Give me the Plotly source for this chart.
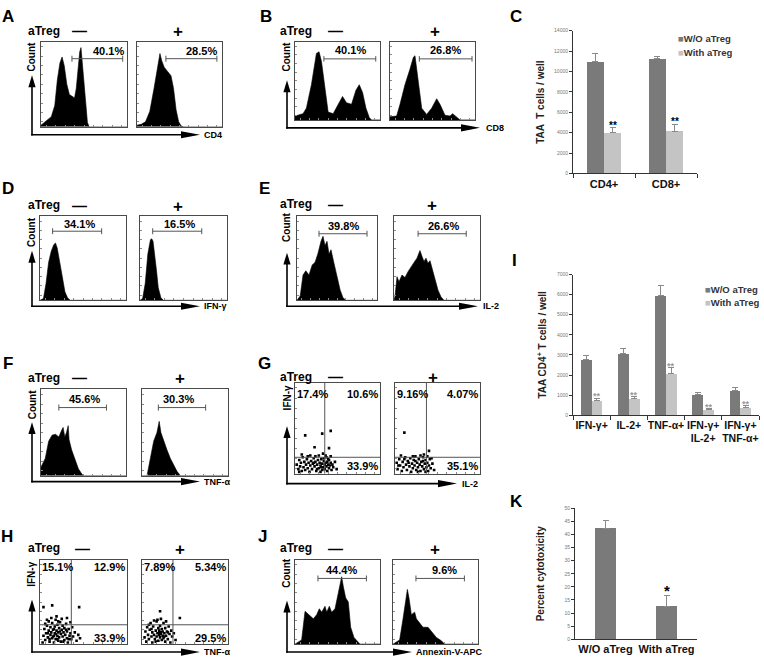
import plotly.graph_objects as go

W, H = 764, 662
FONT = "Arial, 'Liberation Sans', sans-serif"

# ======================= DATA =======================
# Flow histograms: x = fraction of the fluorescence axis, y = fraction of max count
A_minus_x = [0, 0.04, 0.08, 0.12, 0.16, 0.19, 0.22, 0.245, 0.27, 0.30, 0.33, 0.36, 0.39, 0.41, 0.43, 0.45, 0.465, 0.48, 0.50, 0.52, 0.54, 0.56, 1.0]
A_minus_y = [0.02, 0.05, 0.08, 0.12, 0.25, 0.55, 0.75, 0.82, 0.72, 0.50, 0.38, 0.36, 0.34, 0.45, 0.70, 0.88, 0.93, 0.75, 0.45, 0.20, 0.05, 0.0, 0.0]
A_plus_x = [0, 0.05, 0.10, 0.15, 0.20, 0.24, 0.27, 0.29, 0.32, 0.36, 0.40, 0.43, 0.46, 0.49, 0.52, 0.55, 1.0]
A_plus_y = [0.02, 0.03, 0.06, 0.18, 0.45, 0.70, 0.86, 0.78, 0.70, 0.65, 0.60, 0.45, 0.20, 0.06, 0.01, 0.0, 0.0]
A_pct = ["40.1%", "28.5%"]

B_minus_x = [0, 0.05, 0.094, 0.134, 0.193, 0.252, 0.283, 0.311, 0.35, 0.39, 0.449, 0.508, 0.559, 0.606, 0.665, 0.717, 0.756, 0.795, 0.835, 0.874, 0.90, 1.0]
B_minus_y = [0.05, 0.07, 0.08, 0.15, 0.45, 0.85, 0.87, 0.75, 0.40, 0.10, 0.08, 0.20, 0.30, 0.22, 0.20, 0.38, 0.45, 0.35, 0.15, 0.03, 0.0, 0.0]
B_plus_x = [0, 0.078, 0.118, 0.176, 0.235, 0.275, 0.294, 0.333, 0.373, 0.431, 0.49, 0.549, 0.588, 0.647, 0.706, 0.737, 0.784, 0.824, 1.0]
B_plus_y = [0.04, 0.05, 0.20, 0.45, 0.65, 0.80, 0.82, 0.50, 0.15, 0.07, 0.15, 0.27, 0.20, 0.06, 0.05, 0.08, 0.03, 0.0, 0.0]
B_pct = ["40.1%", "26.8%"]

D_minus_x = [0, 0.04, 0.07, 0.10, 0.13, 0.16, 0.18, 0.20, 0.23, 0.26, 0.29, 0.32, 0.35, 1.0]
D_minus_y = [0, 0.02, 0.20, 0.45, 0.58, 0.66, 0.68, 0.62, 0.45, 0.25, 0.10, 0.03, 0, 0]
D_plus_x = [0, 0.03, 0.06, 0.09, 0.12, 0.135, 0.15, 0.17, 0.19, 0.21, 0.24, 0.27, 1.0]
D_plus_y = [0, 0.02, 0.20, 0.55, 0.72, 0.73, 0.70, 0.55, 0.35, 0.15, 0.03, 0, 0]
D_pct = ["34.1%", "16.5%"]

E_minus_x = [0, 0.04, 0.075, 0.11, 0.15, 0.19, 0.225, 0.26, 0.30, 0.325, 0.35, 0.375, 0.40, 0.425, 0.46, 0.50, 0.54, 0.575, 0.61, 1.0]
E_minus_y = [0, 0.05, 0.30, 0.35, 0.30, 0.42, 0.45, 0.55, 0.70, 0.76, 0.65, 0.70, 0.55, 0.60, 0.45, 0.30, 0.12, 0.03, 0, 0]
E_plus_x = [0, 0.012, 0.035, 0.058, 0.093, 0.128, 0.163, 0.198, 0.233, 0.267, 0.302, 0.326, 0.349, 0.372, 0.395, 0.419, 0.442, 0.477, 0.512, 0.547, 0.581, 1.0]
E_plus_y = [0, 0.05, 0.28, 0.22, 0.30, 0.27, 0.34, 0.40, 0.45, 0.50, 0.59, 0.52, 0.46, 0.50, 0.44, 0.47, 0.38, 0.25, 0.12, 0.04, 0, 0]
E_pct = ["39.8%", "26.6%"]

F_minus_x = [0, 0.05, 0.09, 0.13, 0.17, 0.21, 0.24, 0.26, 0.28, 0.30, 0.32, 0.33, 0.36, 0.40, 0.44, 0.48, 0.50, 1.0]
F_minus_y = [0.10, 0.20, 0.40, 0.47, 0.48, 0.45, 0.52, 0.56, 0.45, 0.50, 0.58, 0.42, 0.30, 0.18, 0.08, 0.02, 0, 0]
F_plus_x = [0, 0.058, 0.097, 0.136, 0.174, 0.20, 0.22, 0.252, 0.29, 0.33, 0.368, 0.407, 0.446, 1.0]
F_plus_y = [0, 0, 0.20, 0.40, 0.50, 0.63, 0.50, 0.40, 0.30, 0.20, 0.12, 0.05, 0, 0]
F_pct = ["45.6%", "30.3%"]

J_minus_x = [0, 0.078, 0.118, 0.157, 0.184, 0.216, 0.255, 0.286, 0.314, 0.353, 0.373, 0.404, 0.431, 0.471, 0.498, 0.529, 0.549, 0.569, 0.596, 0.627, 0.655, 0.694, 0.733, 0.765, 1.0]
J_minus_y = [0, 0.05, 0.39, 0.36, 0.33, 0.30, 0.35, 0.42, 0.38, 0.45, 0.38, 0.45, 0.38, 0.42, 0.55, 0.72, 0.80, 0.68, 0.55, 0.50, 0.20, 0.08, 0.03, 0, 0]
J_plus_x = [0, 0.078, 0.118, 0.149, 0.169, 0.188, 0.216, 0.255, 0.275, 0.314, 0.353, 0.412, 0.451, 0.51, 0.569, 0.608, 1.0]
J_plus_y = [0, 0.05, 0.30, 0.50, 0.65, 0.55, 0.35, 0.38, 0.30, 0.25, 0.20, 0.20, 0.15, 0.08, 0.04, 0, 0]
J_pct = ["44.4%", "9.6%"]

# Gates: [start, end, level] in axis fractions; label: [x, y]
A_gates = [[0.36, 0.95, 0.80], [0.34, 0.94, 0.80]]
A_lab = [[0.78, 0.895], [0.76, 0.895]]
B_gates = [[0.34, 0.95, 0.78], [0.345, 0.965, 0.78]]
B_lab = [[0.65, 0.89], [0.655, 0.89]]
D_gates = [[0.147, 0.717, 0.82], [0.146, 0.71, 0.82]]
D_lab = [[0.465, 0.905], [0.45, 0.905]]
E_gates = [[0.275, 0.875, 0.79], [0.28, 0.84, 0.79]]
E_lab = [[0.575, 0.88], [0.57, 0.88]]
F_gates = [[0.21, 0.77, 0.79], [0.19, 0.74, 0.79]]
F_lab = [[0.51, 0.885], [0.43, 0.885]]
J_gates = [[0.27, 0.84, 0.78], [0.27, 0.84, 0.78]]
J_lab = [[0.55, 0.88], [0.61, 0.88]]

# Dot plots (x, y as axis fractions)
G_minus_pts = [(0.02,0.10),(0.04,0.05),(0.05,0.15),(0.06,0.08),(0.07,0.12),(0.08,0.03),(0.09,0.18),(0.10,0.07),(0.11,0.13),(0.12,0.04),
               (0.13,0.10),(0.14,0.16),(0.15,0.06),(0.16,0.12),(0.17,0.02),(0.18,0.09),(0.19,0.14),(0.20,0.05),(0.21,0.11),(0.22,0.17),
               (0.23,0.08),(0.24,0.13),(0.25,0.03),(0.26,0.10),(0.27,0.15),(0.28,0.06),(0.29,0.12),(0.30,0.09),(0.31,0.16),(0.32,0.04),
               (0.32,0.11),(0.33,0.07),(0.34,0.14),(0.35,0.10),(0.35,0.05),(0.36,0.12),(0.37,0.18),(0.37,0.08),(0.38,0.03),(0.38,0.13),
               (0.39,0.10),(0.40,0.06),(0.40,0.15),(0.41,0.09),(0.42,0.12),(0.43,0.04),(0.44,0.10),(0.45,0.07),(0.47,0.13),(0.49,0.05),
               (0.28,0.20),(0.33,0.22),(0.36,0.20),(0.30,0.02),(0.24,0.19),(0.18,0.20),(0.08,0.21),(0.42,0.19),(0.34,0.17),(0.31,0.07),
               (0.26,0.05),(0.39,0.16),(0.22,0.12),(0.15,0.19),(0.05,0.02),(0.12,0.42),(0.32,0.44),(0.42,0.47),(0.23,0.29),(0.40,0.28)]
G_plus_pts = [(0.02,0.12),(0.03,0.05),(0.05,0.16),(0.06,0.09),(0.08,0.03),(0.09,0.13),(0.10,0.07),(0.12,0.18),(0.13,0.10),(0.14,0.04),
              (0.15,0.14),(0.17,0.08),(0.18,0.17),(0.19,0.02),(0.20,0.11),(0.21,0.06),(0.22,0.15),(0.23,0.09),(0.24,0.19),(0.25,0.04),
              (0.26,0.12),(0.27,0.07),(0.28,0.16),(0.29,0.10),(0.30,0.03),(0.31,0.13),(0.32,0.08),(0.33,0.18),(0.34,0.05),(0.35,0.11),
              (0.36,0.15),(0.37,0.07),(0.38,0.12),(0.39,0.03),(0.40,0.09),(0.41,0.16),(0.42,0.06),(0.44,0.11),(0.46,0.04),(0.30,0.20),
              (0.34,0.21),(0.27,0.02),(0.16,0.12),(0.11,0.16),(0.07,0.20),(0.38,0.19),(0.33,0.14),(0.24,0.14),(0.43,0.17),(0.21,0.19),
              (0.04,0.09),(0.36,0.02),(0.11,0.45),(0.40,0.25)]
G_pct = ["17.4%", "10.6%", "33.9%", "9.16%", "4.07%", "35.1%"]
G_quads = [[0.35, 0.18], [0.37, 0.18]]

H_minus_pts = [(0.04,0.10),(0.05,0.18),(0.06,0.05),(0.07,0.13),(0.08,0.22),(0.09,0.08),(0.10,0.16),(0.10,0.27),(0.11,0.03),(0.12,0.11),
               (0.12,0.20),(0.13,0.14),(0.14,0.07),(0.14,0.25),(0.15,0.17),(0.16,0.10),(0.16,0.02),(0.17,0.21),(0.17,0.13),(0.18,0.06),
               (0.18,0.29),(0.19,0.16),(0.20,0.10),(0.20,0.23),(0.21,0.04),(0.21,0.14),(0.22,0.19),(0.22,0.08),(0.23,0.26),(0.24,0.12),
               (0.24,0.03),(0.25,0.17),(0.26,0.09),(0.26,0.22),(0.27,0.14),(0.28,0.05),(0.28,0.19),(0.29,0.11),(0.30,0.24),(0.31,0.07),
               (0.31,0.15),(0.32,0.02),(0.33,0.18),(0.34,0.10),(0.35,0.13),(0.36,0.06),(0.37,0.20),(0.38,0.09),(0.40,0.14),(0.42,0.04),
               (0.44,0.11),(0.46,0.07),(0.03,0.02),(0.13,0.31),(0.19,0.33),(0.25,0.30),(0.08,0.29),(0.15,0.09),(0.18,0.12),(0.21,0.27),
               (0.11,0.06),(0.23,0.15),(0.27,0.03),(0.30,0.17),(0.09,0.13),(0.16,0.18),(0.20,0.06),(0.35,0.26),(0.06,0.24),(0.33,0.06),
               (0.14,0.46),(0.45,0.44),(0.04,0.44),(0.31,0.31)]
H_plus_pts = [(0.03,0.08),(0.04,0.15),(0.05,0.03),(0.06,0.20),(0.07,0.11),(0.08,0.06),(0.09,0.17),(0.10,0.25),(0.11,0.09),(0.12,0.14),
              (0.12,0.02),(0.13,0.21),(0.14,0.11),(0.15,0.06),(0.16,0.16),(0.17,0.27),(0.17,0.09),(0.18,0.13),(0.19,0.19),(0.19,0.04),
              (0.20,0.11),(0.20,0.16),(0.21,0.08),(0.21,0.22),(0.22,0.14),(0.22,0.12),(0.23,0.18),(0.23,0.05),(0.24,0.10),(0.24,0.15),
              (0.25,0.25),(0.25,0.07),(0.26,0.13),(0.27,0.19),(0.27,0.03),(0.28,0.10),(0.29,0.15),(0.30,0.06),(0.31,0.21),(0.32,0.12),
              (0.33,0.02),(0.34,0.16),(0.35,0.09),(0.37,0.13),(0.39,0.05),(0.18,0.29),(0.22,0.30),(0.14,0.28),(0.28,0.27),(0.11,0.18),
              (0.26,0.09),(0.20,0.13),(0.16,0.03),(0.30,0.14),(0.08,0.23),(0.21,0.39),(0.44,0.31)]
H_pct = ["15.1%", "12.9%", "33.9%", "7.89%", "5.34%", "29.5%"]
H_quads = [[0.36, 0.23], [0.36, 0.23]]

# Bar charts
C_categories = ["CD4+", "CD8+"]
C_wo = [11000, 11300]
C_wo_err = [800, 150]
C_with = [4000, 4150]
C_with_err = [500, 680]
C_stars = ["**", "**"]

I_categories = ["IFN-γ+", "IL-2+", "TNF-α+", "IFN-γ+<br>IL-2+", "IFN-γ+<br>TNF-α+"]
I_wo = [2760, 3060, 5960, 1050, 1230]
I_wo_err = [230, 240, 480, 100, 130]
I_with = [740, 820, 2100, 280, 380]
I_with_err = [100, 100, 250, 50, 80]
I_stars = ["**", "**", "**", "**", "**"]

K_categories = ["W/O aTreg", "With aTreg"]
K_values = [42.2, 12.5]
K_err = [3.1, 4.2]
K_stars = ["", "*"]

series_names = ["W/O aTreg", "With aTreg"]

# ======================= BUILD =======================
DARK, LIGHT = "#7a7a7a", "#c4c4c4"
fig = go.Figure()
layout_axes, shapes, annots = {}, [], []
n_axes = 0


def PX(x):
    return x / W


def PY(y):
    return 1 - y / H


def new_axes(box, xr, yr, xs, ys):
    global n_axes
    n_axes += 1
    sfx = "" if n_axes == 1 else str(n_axes)
    x0, y0, x1, y1 = box
    layout_axes["xaxis" + sfx] = dict(domain=[PX(x0), PX(x1)], range=xr, anchor="y" + sfx, **xs)
    layout_axes["yaxis" + sfx] = dict(domain=[PY(y1), PY(y0)], range=yr, anchor="x" + sfx, **ys)
    return "x" + sfx, "y" + sfx


def txt(x, y, text, size, xanchor="center", yanchor="middle", angle=0, color="black",
        xref="paper", yref="paper", bold=True, yshift=0):
    if not text:
        return
    if xref == "paper":
        x = PX(x)
    if yref == "paper":
        y = PY(y)
    annots.append(dict(x=x, y=y, xref=xref, yref=yref, text=("<b>%s</b>" % text) if bold else text,
                       showarrow=False, xanchor=xanchor, yanchor=yanchor, textangle=angle, yshift=yshift,
                       font=dict(family=FONT, size=size, color=color)))


FLOW = dict(showline=True, linecolor="#4a4a4a", linewidth=1, mirror=True, ticks="inside", ticklen=2,
            tickwidth=1, tickcolor="#8a8a8a", tick0=0.06, dtick=0.11, showticklabels=False,
            showgrid=False, zeroline=False, fixedrange=True)


def header(letter_xy, letter, y, atreg_x, minus_x, plus_x):
    txt(letter_xy[0], letter_xy[1], letter, 17)
    txt(atreg_x, y, "aTreg", 12)
    txt(minus_x, y, "—", 15)
    txt(plus_x, y + 1, "+", 17)


def axis_arrows(cx, cy, vtip, htip, ylab, ylab_y, xlab, xlab_x, ysize=10, xsize=9, xlab_dy=0):
    line = dict(color="black", width=1.6)
    shapes.append(dict(type="line", xref="paper", yref="paper", x0=PX(cx), y0=PY(cy + 0.8), x1=PX(cx),
                       y1=PY(vtip + 10), line=line))
    shapes.append(dict(type="path", xref="paper", yref="paper", fillcolor="black", line=dict(width=0),
                       path="M%f,%f L%f,%f L%f,%f Z" % (PX(cx), PY(vtip), PX(cx - 3.6), PY(vtip + 12),
                                                        PX(cx + 3.6), PY(vtip + 12))))
    shapes.append(dict(type="line", xref="paper", yref="paper", x0=PX(cx - 0.8), y0=PY(cy), x1=PX(htip - 16),
                       y1=PY(cy), line=line))
    shapes.append(dict(type="path", xref="paper", yref="paper", fillcolor="black", line=dict(width=0),
                       path="M%f,%f L%f,%f L%f,%f Z" % (PX(htip), PY(cy), PX(htip - 19), PY(cy - 3.6),
                                                        PX(htip - 19), PY(cy + 3.6))))
    txt(cx, ylab_y, ylab, ysize, angle=-90)
    txt(xlab_x, cy + xlab_dy, xlab, xsize, xanchor="left")


def flow_hist(box, xs, ys, gate, pct, lab):
    xa, ya = new_axes(box, [0, 1], [0, 1], FLOW, FLOW)
    fig.add_trace(go.Scatter(x=xs, y=ys, mode="lines", fill="tozeroy", fillcolor="black",
                             line=dict(color="black", width=0.6), xaxis=xa, yaxis=ya,
                             hoverinfo="skip", showlegend=False))
    g0, g1, gy = gate
    for seg in [(g0, gy, g1, gy), (g0, gy - 0.035, g0, gy + 0.035), (g1, gy - 0.035, g1, gy + 0.035)]:
        shapes.append(dict(type="line", xref=xa, yref=ya, x0=seg[0], y0=seg[1], x1=seg[2], y1=seg[3],
                           line=dict(color="#555", width=1)))
    txt(lab[0], lab[1], pct, 11, xref=xa, yref=ya)


def flow_dots(box, pts, quad, pcts, top_y, bot_y):
    xa, ya = new_axes(box, [0, 1], [0, 1], FLOW, FLOW)
    fig.add_trace(go.Scatter(x=[p[0] for p in pts], y=[p[1] for p in pts], mode="markers",
                             marker=dict(size=2.6, color="black", symbol="square"), xaxis=xa, yaxis=ya,
                             hoverinfo="skip", showlegend=False))
    qx, qy = quad
    shapes.append(dict(type="line", xref=xa, yref=ya, x0=qx, y0=0, x1=qx, y1=1, line=dict(color="#555", width=1)))
    shapes.append(dict(type="line", xref=xa, yref=ya, x0=0, y0=qy, x1=1, y1=qy, line=dict(color="#555", width=1)))
    txt(0.0, top_y, pcts[0], 11, xanchor="left", xref=xa, yref=ya)
    txt(1.0, top_y, pcts[1], 11, xanchor="right", xref=xa, yref=ya)
    txt(1.0, bot_y, pcts[2], 11, xanchor="right", xref=xa, yref=ya)


# ---- A ----
header((8, 14), "A", 28, 43.5, 79, 178)
flow_hist((41, 39, 127, 125), A_minus_x, A_minus_y, A_gates[0], A_pct[0], A_lab[0])
flow_hist((137, 39, 222, 125), A_plus_x, A_plus_y, A_gates[1], A_pct[1], A_lab[1])
axis_arrows(32, 133, 73, 200, "Count", 54, "CD4", 202)
# ---- B ----
header((266, 14), "B", 28, 296, 335, 435)
flow_hist((295, 39, 380, 118), B_minus_x, B_minus_y, B_gates[0], B_pct[0], B_lab[0])
flow_hist((390, 39, 475, 118), B_plus_x, B_plus_y, B_gates[1], B_pct[1], B_lab[1])
axis_arrows(287, 126, 78, 480, "Count", 54, "CD8", 484)
# ---- D ----
header((8, 187), "D", 204, 43.5, 79, 178)
flow_hist((40, 215, 126, 300), D_minus_x, D_minus_y, D_gates[0], D_pct[0], D_lab[0])
flow_hist((140, 215, 227, 300), D_plus_x, D_plus_y, D_gates[1], D_pct[1], D_lab[1])
axis_arrows(32, 306, 250, 200, "Count", 231, "IFN-γ", 202)
# ---- E ----
header((264, 187), "E", 203, 296, 335, 432)
flow_hist((297, 215, 377, 300), E_minus_x, E_minus_y, E_gates[0], E_pct[0], E_lab[0])
flow_hist((394, 215, 480, 300), E_plus_x, E_plus_y, E_gates[1], E_pct[1], E_lab[1])
axis_arrows(287, 306, 252, 478, "Count", 226, "IL-2", 481)
# ---- F ----
header((8, 364), "F", 378, 43.5, 79, 180)
flow_hist((41, 390, 126, 477), F_minus_x, F_minus_y, F_gates[0], F_pct[0], F_lab[0])
flow_hist((142, 390, 228, 477), F_plus_x, F_plus_y, F_gates[1], F_pct[1], F_lab[1])
axis_arrows(32, 483, 423, 200, "Count", 405, "TNF-α", 202)
# ---- G ----
header((264, 364), "G", 377, 296, 335, 433)
flow_dots((295, 383, 380, 475), G_minus_pts, G_quads[0], G_pct[0:3], 0.87, 0.08)
flow_dots((395, 383, 480, 475), G_plus_pts, G_quads[1], G_pct[3:6], 0.87, 0.08)
axis_arrows(287, 485, 427, 457, "IFN-γ", 399, "IL-2", 460)
# ---- H ----
header((7, 538), "H", 550, 43.5, 82, 180)
flow_dots((40, 562, 127, 647), H_minus_pts, H_quads[0], H_pct[0:3], 0.92, 0.07)
flow_dots((142, 562, 228, 647), H_plus_pts, H_quads[1], H_pct[3:6], 0.92, 0.07)
axis_arrows(32, 655, 602, 200, "IFN-γ", 577, "TNF-α", 202)
# ---- J ----
header((262, 538), "J", 550, 296, 335, 435)
flow_hist((295, 562, 380, 647), J_minus_x, J_minus_y, J_gates[0], J_pct[0], J_lab[0])
flow_hist((393, 562, 478, 647), J_plus_x, J_plus_y, J_gates[1], J_pct[1], J_lab[1])
axis_arrows(287, 655, 603, 412, "Count", 575, "Annexin-V-APC", 414)

# ---- bar charts ----
def bar_axes(box, ncat, cats, yr, dtick, ytitle, standoff, minor_ticks, catsize=11):
    xs = dict(showline=True, linecolor="#333", linewidth=1, tickvals=list(range(ncat)),
              ticktext=["<b>%s</b>" % c for c in cats], tickangle=0, ticklabeloverflow="allow",
              tickfont=dict(family=FONT, size=catsize, color="#111"), ticks="", showgrid=False, zeroline=False,
              fixedrange=True)
    if minor_ticks:
        xs["minor"] = dict(tickvals=[i - 0.5 for i in range(ncat + 1)], ticks="outside", ticklen=4,
                           tickcolor="#333", tickwidth=1)
    ys = dict(showline=True, linecolor="#333", linewidth=1, ticks="outside", ticklen=3, tickcolor="#333",
              tickfont=dict(family=FONT, size=5, color="#777"), dtick=dtick, tickformat="d", showgrid=False,
              zeroline=False, fixedrange=True,
              title=dict(text="<b>%s</b>" % ytitle, font=dict(family=FONT, size=10, color="#222"), standoff=standoff))
    return new_axes(box, [-0.5, ncat - 0.5], yr, xs, ys)


def err(arr):
    return dict(type="data", array=arr, arrayminus=[0] * len(arr), symmetric=False, color="#8a8a8a",
                thickness=1, width=3)


def grouped(box, cats, s1, e1, s2, e2, w, yr, dtick, ytitle, stars, star_color, star_size, standoff, catsize):
    xa, ya = bar_axes(box, len(cats), cats, yr, dtick, ytitle, standoff, True, catsize)
    idx = list(range(len(cats)))
    fig.add_trace(go.Bar(x=[i - w / 2 for i in idx], y=s1, width=w, name=series_names[0],
                         marker=dict(color=DARK, line=dict(width=0)),
                         error_y=err(e1), xaxis=xa, yaxis=ya, showlegend=False))
    fig.add_trace(go.Bar(x=[i + w / 2 for i in idx], y=s2, width=w, name=series_names[1],
                         marker=dict(color=LIGHT, line=dict(width=0)),
                         error_y=err(e2), xaxis=xa, yaxis=ya, showlegend=False))
    for i in idx:
        txt(i + w / 2, s2[i] + e2[i], stars[i], star_size, yanchor="bottom", color=star_color, xref=xa, yref=ya,
            yshift=-5)
    return xa, ya


def legend_block(x, y1, y2, size):
    txt(x, y1, '<span style="color:%s">■</span>%s' % (DARK, series_names[0]), size, xanchor="left", color="#333")
    txt(x, y2, '<span style="color:%s">■</span>%s' % (LIGHT, series_names[1]), size, xanchor="left", color="#333")


txt(516, 14, "C", 17)
grouped((573, 28, 697, 172), C_categories, C_wo, C_wo_err, C_with, C_with_err, 0.28, [0, 14000], 2000,
        "TAA  T cells / well", C_stars, "black", 10, 7, 11)
legend_block(676, 36, 50, 9.5)

txt(514, 260, "I", 17)
grouped((573, 274, 759, 416), I_categories, I_wo, I_wo_err, I_with, I_with_err, 0.29, [0, 7000], 1000,
        "TAA CD4<sup>+</sup> T cells / well", I_stars, "#9a9a9a", 9, 8, 10.5)
legend_block(703, 289, 302, 9.5)

txt(516, 503, "K", 17)
xa, ya = bar_axes((575, 510, 697, 642), 2, K_categories, [0, 50], 5, "Percent cytotoxicity", 17, False)
fig.add_trace(go.Bar(x=[0, 1], y=K_values, width=0.36, name="Percent cytotoxicity",
                     marker=dict(color=DARK, line=dict(width=0)), error_y=err(K_err), xaxis=xa, yaxis=ya,
                     showlegend=False))
for i in range(2):
    txt(i, K_values[i] + K_err[i], K_stars[i], 15, yanchor="bottom", xref=xa, yref=ya, yshift=-6)

fig.update_layout(width=W, height=H, margin=dict(l=0, r=0, t=0, b=0), autosize=False,
                  paper_bgcolor="white", plot_bgcolor="rgba(0,0,0,0)", showlegend=False,
                  shapes=shapes, annotations=annots, bargap=0, font=dict(family=FONT), **layout_axes)
fig.write_html("out.html", config={"displayModeBar": False},
               post_script="document.body.style.margin='0px';document.body.style.overflow='hidden';")
